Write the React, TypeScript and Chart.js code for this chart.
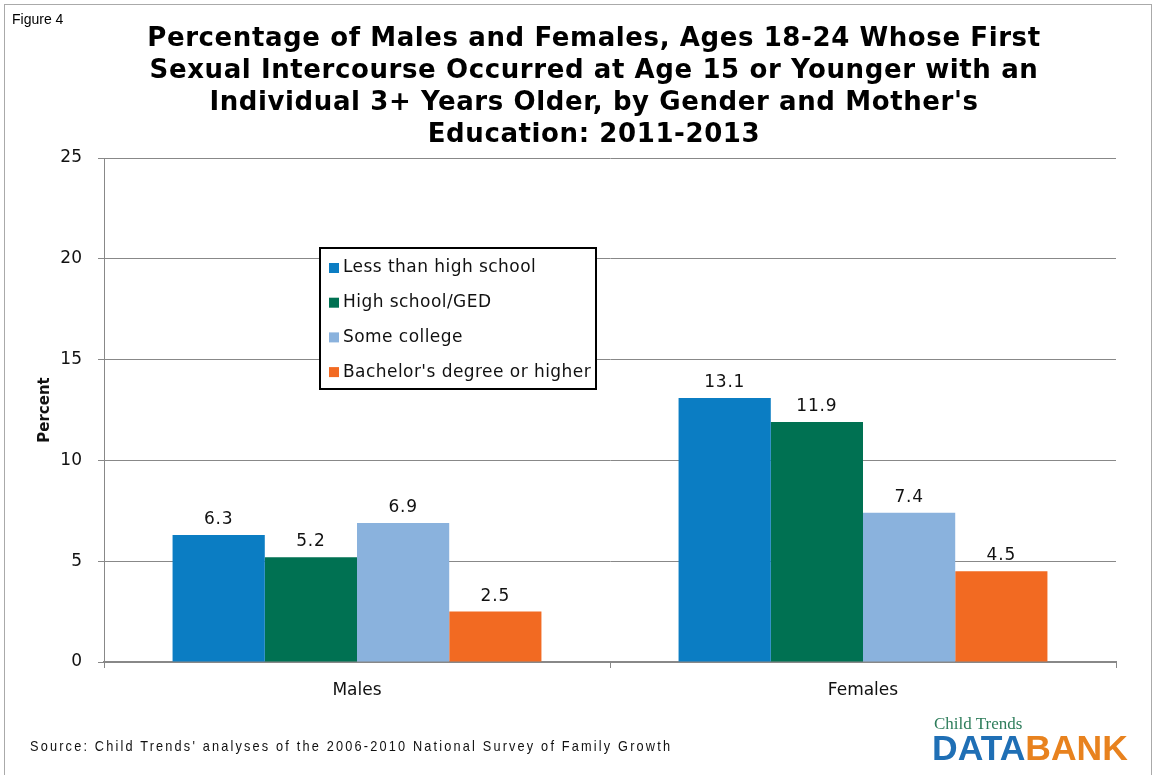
import React, { useEffect, useRef } from "react";
import { Chart, registerables } from "chart.js";

Chart.register(...registerables);

const categories = ["Males", "Females"];
const seriesNames = [
  "Less than high school",
  "High school/GED",
  "Some college",
  "Bachelor's degree or higher",
];
const lessThanHighSchool = [6.3, 13.1];
const highSchoolGED = [5.2, 11.9];
const someCollege = [6.9, 7.4];
const bachelorsOrHigher = [2.5, 4.5];
const seriesColors = ["#0B7DC3", "#007152", "#8AB2DD", "#F26A22"];
const yTicks = [0, 5, 10, 15, 20, 25];
const titleLines = [
  "Percentage of Males and Females, Ages 18-24 Whose First",
  "Sexual Intercourse Occurred at Age 15 or Younger with an",
  "Individual 3+ Years Older, by Gender and Mother's",
  "Education: 2011-2013",
];
const sourceText =
  "Source: Child Trends' analyses of the 2006-2010 National Survey of Family Growth";

const FONT = "'DejaVu Sans', Verdana, sans-serif";

const dataLabelPlugin = {
  id: "dataLabels",
  afterDatasetsDraw(chart: any) {
    const ctx = chart.ctx;
    ctx.save();
    ctx.font = `17px ${FONT}`;
    (ctx as any).letterSpacing = "0.8px";
    ctx.fillStyle = "#111";
    ctx.textAlign = "center";
    ctx.textBaseline = "bottom";
    chart.data.datasets.forEach((ds: any, di: number) => {
      const meta = chart.getDatasetMeta(di);
      meta.data.forEach((bar: any, i: number) => {
        ctx.fillText(ds.data[i].toFixed(1), bar.x, bar.y - 7);
      });
    });
    ctx.restore();
  },
};

const boxLegendPlugin = {
  id: "boxLegend",
  afterDraw(chart: any) {
    const ctx = chart.ctx;
    const area = chart.chartArea;
    const x = area.left + 216;
    const y = area.top + 90;
    const w = 276;
    const h = 141;
    ctx.save();
    ctx.fillStyle = "#fff";
    ctx.fillRect(x, y, w, h);
    ctx.strokeStyle = "#000";
    ctx.lineWidth = 2;
    ctx.strokeRect(x, y, w, h);
    ctx.font = `17px ${FONT}`;
    (ctx as any).letterSpacing = "0.45px";
    ctx.textBaseline = "middle";
    ctx.textAlign = "left";
    chart.data.datasets.forEach((ds: any, i: number) => {
      const cy = y + 20 + i * 34.7;
      ctx.fillStyle = ds.backgroundColor;
      ctx.fillRect(x + 9, cy - 5, 10, 10);
      ctx.fillStyle = "#111";
      ctx.fillText(ds.label, x + 23, cy);
    });
    ctx.restore();
  },
};

function ChartCanvas() {
  const ref = useRef<HTMLCanvasElement | null>(null);
  useEffect(() => {
    if (!ref.current) return;
    const values = [lessThanHighSchool, highSchoolGED, someCollege, bachelorsOrHigher];
    const chart = new Chart(ref.current, {
      type: "bar",
      data: {
        labels: categories,
        datasets: seriesNames.map((name, i) => ({
          label: name,
          data: values[i],
          backgroundColor: seriesColors[i],
          borderWidth: 0,
          categoryPercentage: 0.729,
          barPercentage: 1,
        })),
      },
      options: {
        responsive: false,
        animation: false,
        devicePixelRatio: 1,
        layout: { padding: { top: 158, left: 0, right: 38, bottom: 63 } },
        plugins: {
          legend: { display: false },
          title: { display: false },
          tooltip: { enabled: false },
        },
        scales: {
          x: {
            grid: {
              display: true,
              offset: true,
              drawOnChartArea: false,
              drawTicks: true,
              tickLength: 6,
              color: "#888",
              lineWidth: 1,
            },
            border: { display: true, color: "#888", width: 2 },
            ticks: {
              color: "#111",
              font: { family: FONT, size: 17 },
              padding: 12,
            },
            afterFit(scale: any) {
              scale.height = 50;
            },
          },
          y: {
            min: 0,
            max: 25,
            afterBuildTicks(scale: any) {
              scale.ticks = yTicks.map((v) => ({ value: v }));
            },
            grid: {
              color: "#888",
              lineWidth: 1,
              drawTicks: true,
              tickLength: 6,
            },
            border: { display: true, color: "#888", width: 1 },
            ticks: {
              color: "#111",
              font: { family: FONT, size: 17 },
              padding: 16,
            },
            title: {
              display: true,
              text: "Percent",
              color: "#111",
              font: { family: FONT, size: 15, weight: "bold" },
              padding: { top: 36, bottom: 0 },
            },
            afterFit(scale: any) {
              scale.width = 104;
            },
          },
        },
      },
      plugins: [dataLabelPlugin, boxLegendPlugin],
    });
    return () => chart.destroy();
  }, []);
  return (
    <canvas
      ref={ref}
      width={1154}
      height={775}
      style={{ position: "absolute", left: 0, top: 0, width: 1154, height: 775 }}
    />
  );
}

export default function App() {
  return (
    <div
      style={{
        position: "fixed",
        left: 0,
        top: 0,
        width: 1154,
        height: 775,
        background: "#fff",
        overflow: "hidden",
      }}
    >
      <div
        style={{
          position: "absolute",
          left: 4,
          top: 4,
          width: 1148,
          height: 800,
          border: "1px solid #aaa",
          boxSizing: "border-box",
        }}
      />
      <ChartCanvas />
      <div
        style={{
          position: "absolute",
          left: 12,
          top: 11,
          fontFamily: "'Liberation Sans', Arial, sans-serif",
          fontSize: 14,
          color: "#000",
        }}
      >
        Figure 4
      </div>
      <div
        style={{
          position: "absolute",
          left: 94,
          top: 21,
          width: 1000,
          textAlign: "center",
          fontFamily: FONT,
          fontWeight: "bold",
          fontSize: 26,
          letterSpacing: "0.6px",
          lineHeight: "32px",
          color: "#000",
        }}
      >
        {titleLines.map((l, i) => (
          <div key={i}>{l}</div>
        ))}
      </div>
      <div
        style={{
          position: "absolute",
          left: 30,
          top: 737,
          fontFamily: "'Liberation Sans', Arial, sans-serif",
          fontSize: 15,
          letterSpacing: "2.55px",
          color: "#111",
          whiteSpace: "nowrap",
          transform: "scaleX(0.85)",
          transformOrigin: "0 0",
        }}
      >
        {sourceText}
      </div>
      <div
        style={{
          position: "absolute",
          left: 934,
          top: 714,
          fontFamily: "'Liberation Serif', 'DejaVu Serif', serif",
          fontSize: 17,
          color: "#2E7D5B",
          lineHeight: "20px",
          whiteSpace: "nowrap",
        }}
      >
        Child Trends
      </div>
      <div
        style={{
          position: "absolute",
          left: 932,
          top: 728,
          fontFamily: "'Liberation Sans', Arial, sans-serif",
          fontWeight: "bold",
          fontSize: 35.5,
          lineHeight: "40px",
          whiteSpace: "nowrap",
        }}
      >
        <span style={{ color: "#1F6FB5" }}>DATA</span>
        <span style={{ color: "#E8821E" }}>BANK</span>
      </div>
    </div>
  );
}
